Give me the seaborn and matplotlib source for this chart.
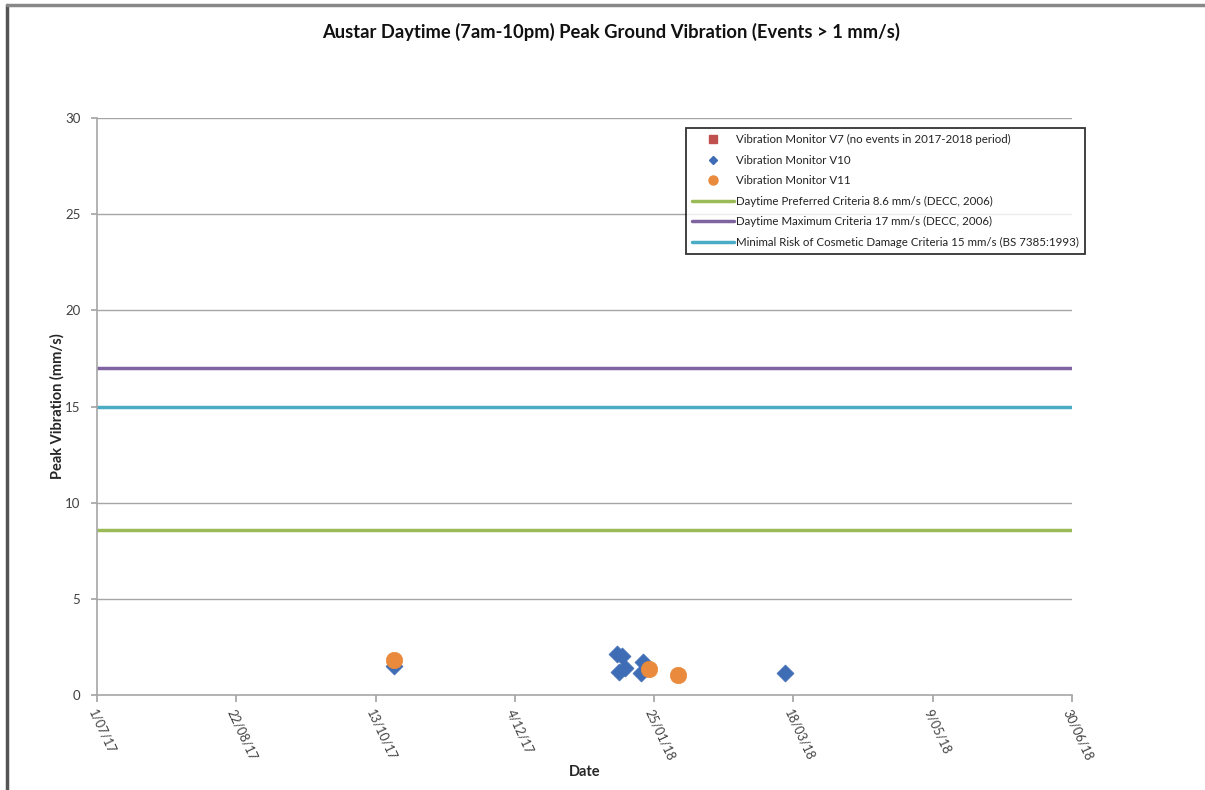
import matplotlib
matplotlib.use('Agg')
import matplotlib.pyplot as plt
from matplotlib.lines import Line2D
import pandas as pd
import seaborn as sns

sns.set_theme(style='white')
plt.rcParams['font.family'] = ['Lato', 'DejaVu Sans']

# data
v10_dates = ['2017-10-20', '2018-01-11', '2018-01-13', '2018-01-12', '2018-01-14',
             '2018-01-21', '2018-01-20', '2018-03-15']
v10_vals = [1.51, 2.13, 2.03, 1.20, 1.40, 1.72, 1.14, 1.14]
v11_dates = ['2017-10-20', '2018-01-23', '2018-02-03']
v11_vals = [1.82, 1.35, 1.02]

crit_preferred = 8.6
crit_maximum = 17
crit_cosmetic = 15

tick_dates = ['2017-07-01', '2017-08-22', '2017-10-13', '2017-12-04',
              '2018-01-25', '2018-03-18', '2018-05-09', '2018-06-30']
tick_labels = ['1/07/17', '22/08/17', '13/10/17', '4/12/17',
               '25/01/18', '18/03/18', '9/05/18', '30/06/18']

c_v7 = '#C0504D'
c_v10 = '#3E6DB5'
c_v11 = '#EA8A3C'
c_green = '#9BBB59'
c_purple = '#8064A2'
c_cyan = '#4BACC6'

df10 = pd.DataFrame({'date': pd.to_datetime(v10_dates), 'vib': v10_vals})
df11 = pd.DataFrame({'date': pd.to_datetime(v11_dates), 'vib': v11_vals})

fig = plt.figure(figsize=(12.05, 7.9), dpi=100)
ax = fig.add_axes([97/1205, 1-695/790, (1072-97)/1205, (695-118)/790])

for y in range(5, 31, 5):
    ax.axhline(y, color='#A6A6A6', lw=1.0, zorder=0)

ax.axhline(crit_preferred, color=c_green, lw=2.5, zorder=2)
ax.axhline(crit_maximum, color=c_purple, lw=2.5, zorder=2)
ax.axhline(crit_cosmetic, color=c_cyan, lw=2.5, zorder=2)

sns.scatterplot(data=df10, x='date', y='vib', ax=ax, marker='D', s=75,
                color=c_v10, edgecolor=c_v10, linewidth=0.5, zorder=3, legend=False)
sns.scatterplot(data=df11, x='date', y='vib', ax=ax, marker='o', s=140,
                color=c_v11, edgecolor=c_v11, linewidth=0.5, zorder=4, legend=False)

ax.set_xlim(pd.Timestamp(tick_dates[0]), pd.Timestamp(tick_dates[-1]))
ax.set_ylim(0, 30)
ax.set_yticks(range(0, 31, 5))
ax.set_xticks(pd.to_datetime(tick_dates))
ax.set_xticklabels(tick_labels, rotation=-65, ha='left', va='top',
                   rotation_mode='anchor', fontsize=9, color='#404040')
ax.tick_params(axis='y', labelsize=9.5, labelcolor='#404040', length=4,
               color='#A6A6A6', direction='out', left=True, pad=8)
ax.tick_params(axis='x', length=5, color='#A6A6A6', direction='out', bottom=True, pad=4)

for side in ['top', 'right']:
    ax.spines[side].set_visible(False)
for side in ['left', 'bottom']:
    ax.spines[side].set_color('#A6A6A6')
    ax.spines[side].set_linewidth(1.2)

ax.set_xlabel('Date', fontsize=10.5, fontweight='bold', labelpad=2)
ax.set_ylabel('Peak Vibration (mm/s)', fontsize=10.5, fontweight='bold', labelpad=0)
ax.yaxis.set_label_coords(-(97-65)/975, 0.5)
fig.text(0.5075, 1-32/790, 'Austar Daytime (7am-10pm) Peak Ground Vibration (Events > 1 mm/s)',
         ha='center', va='center', fontsize=13.2, fontweight='bold', color='#111111')

handles = [
    Line2D([], [], ls='none', marker='s', color=c_v7, markersize=5.5),
    Line2D([], [], ls='none', marker='D', color=c_v10, markersize=4.5),
    Line2D([], [], ls='none', marker='o', color=c_v11, markersize=6.5),
    Line2D([], [], color=c_green, lw=2.5),
    Line2D([], [], color=c_purple, lw=2.5),
    Line2D([], [], color=c_cyan, lw=2.5),
]
labels = [
    'Vibration Monitor V7 (no events in 2017-2018 period)',
    'Vibration Monitor V10',
    'Vibration Monitor V11',
    'Daytime Preferred Criteria 8.6 mm/s (DECC, 2006)',
    'Daytime Maximum Criteria 17 mm/s (DECC, 2006)',
    'Minimal Risk of Cosmetic Damage Criteria 15 mm/s (BS 7385:1993)',
]
leg = fig.legend(handles, labels, loc='upper left', bbox_to_anchor=(686/1205, 1-128/790),
                 bbox_transform=fig.transFigure, fontsize=8.3, frameon=True, fancybox=False,
                 handlelength=3.6, handletextpad=0.15, labelspacing=0.82, borderpad=0.55,
                 borderaxespad=0)
leg.get_frame().set_edgecolor('black')
leg.get_frame().set_linewidth(1.3)
for t in leg.get_texts():
    t.set_color('#222222')

# outer chart frame (top and left only visible)
fig.add_artist(Line2D([7.5/1205, 7.5/1205], [0, 1-5/790], color='#555555', lw=2.5,
                      transform=fig.transFigure))
fig.add_artist(Line2D([7.5/1205, 1], [1-5/790, 1-5/790], color='#888888', lw=2.5,
                      transform=fig.transFigure))

fig.savefig('out.png', dpi=100)
